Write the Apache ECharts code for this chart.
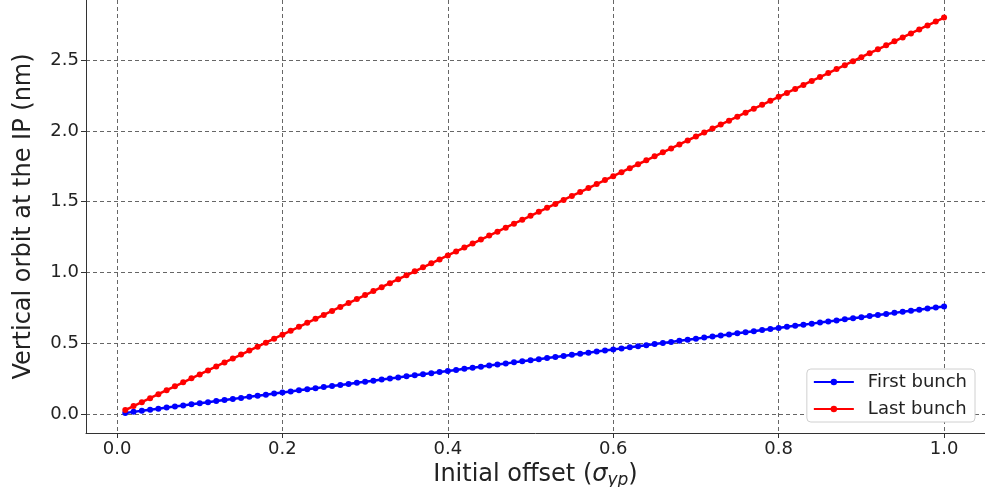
<!DOCTYPE html>
<html>
<head>
<meta charset="utf-8">
<script src="https://cdn.jsdelivr.net/npm/echarts@6/dist/echarts.min.js"></script>
<style>
html, body { margin: 0; padding: 0; background: #fff; }
#chart { width: 985px; height: 487px; }
</style>
</head>
<body>
<div id="chart"></div>
<script>
// 初始偏移 (sigma_yp)
var offsets = [0.01,0.02,0.03,0.04,0.05,0.06,0.07,0.08,0.09,0.10,
	0.11,0.12,0.13,0.14,0.15,0.16,0.17,0.18,0.19,0.20,
	0.21,0.22,0.23,0.24,0.25,0.26,0.27,0.28,0.29,0.30,
	0.31,0.32,0.33,0.34,0.35,0.36,0.37,0.38,0.39,0.40,
	0.41,0.42,0.43,0.44,0.45,0.46,0.47,0.48,0.49,0.50,
	0.51,0.52,0.53,0.54,0.55,0.56,0.57,0.58,0.59,0.60,
	0.61,0.62,0.63,0.64,0.65,0.66,0.67,0.68,0.69,0.70,
	0.71,0.72,0.73,0.74,0.75,0.76,0.77,0.78,0.79,0.80,
	0.81,0.82,0.83,0.84,0.85,0.86,0.87,0.88,0.89,0.90,
	0.91,0.92,0.93,0.94,0.95,0.96,0.97,0.98,0.99,1.00];
// First bunch
var firstBunch = [0.0076,0.0152,0.0228,0.0304,0.038,0.0456,0.0532,0.0608,0.0684,0.076,
	0.0836,0.0912,0.0988,0.1064,0.114,0.1216,0.1292,0.1368,0.1444,0.152,
	0.1596,0.1672,0.1748,0.1824,0.19,0.1976,0.2052,0.2128,0.2204,0.228,
	0.2356,0.2432,0.2508,0.2584,0.266,0.2736,0.2812,0.2888,0.2964,0.304,
	0.3116,0.3192,0.3268,0.3344,0.342,0.3496,0.3572,0.3648,0.3724,0.38,
	0.3876,0.3952,0.4028,0.4104,0.418,0.4256,0.4332,0.4408,0.4484,0.456,
	0.4636,0.4712,0.4788,0.4864,0.494,0.5016,0.5092,0.5168,0.5244,0.532,
	0.5396,0.5472,0.5548,0.5624,0.57,0.5776,0.5852,0.5928,0.6004,0.608,
	0.6156,0.6232,0.6308,0.6384,0.646,0.6536,0.6612,0.6688,0.6764,0.684,
	0.6916,0.6992,0.7068,0.7144,0.722,0.7296,0.7372,0.7448,0.7524,0.76];
// Last bunch
var lastBunch = [0.028,0.056,0.084,0.112,0.14,0.168,0.196,0.224,0.252,0.28,
	0.308,0.336,0.364,0.392,0.42,0.448,0.476,0.504,0.532,0.56,
	0.588,0.616,0.644,0.672,0.7,0.728,0.756,0.784,0.812,0.84,
	0.868,0.896,0.924,0.952,0.98,1.008,1.036,1.064,1.092,1.12,
	1.148,1.176,1.204,1.232,1.26,1.288,1.316,1.344,1.372,1.4,
	1.428,1.456,1.484,1.512,1.54,1.568,1.596,1.624,1.652,1.68,
	1.708,1.736,1.764,1.792,1.82,1.848,1.876,1.904,1.932,1.96,
	1.988,2.016,2.044,2.072,2.1,2.128,2.156,2.184,2.212,2.24,
	2.268,2.296,2.324,2.352,2.38,2.408,2.436,2.464,2.492,2.52,
	2.548,2.576,2.604,2.632,2.66,2.688,2.716,2.744,2.772,2.8];
// 刻度
var xTicks = [0.0, 0.2, 0.4, 0.6, 0.8, 1.0];
var yTicks = [0.0, 0.5, 1.0, 1.5, 2.0, 2.5];

function pairs(xs, ys) {
	var out = [];
	for (var i = 0; i < xs.length; i++) {
		out.push([xs[i], ys[i]]);
	}
	return out;
}

var font = 'DejaVu Sans';
var myChart = echarts.init(document.getElementById('chart'));
var option = {
	backgroundColor : '#fff',
	animation : false,
	grid : {
		left : 86,
		right : 0,
		top : 0,
		bottom : 54,
		outerBoundsMode : 'none'
	},
	legend : {
		right : 10,
		bottom : 65,
		orient : 'vertical',
		data : [ 'First bunch', 'Last bunch' ],
		backgroundColor : '#fff',
		borderColor : '#d0d0d0',
		borderWidth : 1,
		borderRadius : 4,
		padding : [ 4, 8, 4, 6 ],
		itemGap : 9,
		itemWidth : 40,
		itemHeight : 8,
		textStyle : {
			fontFamily : font,
			fontSize : 18,
			color : '#222',
			padding : [ 0, 0, 0, 9 ]
		}
	},
	xAxis : {
		type : 'value',
		min : -0.0375,
		max : 1.0495,
		name : '{a|Initial offset (}{s|σ}{b|yp}{a|)}',
		nameLocation : 'middle',
		nameGap : 21,
		nameTextStyle : {
			rich : {
				a : { fontFamily : font, fontSize : 24, color : '#222' },
				s : { fontFamily : font, fontSize : 24, color : '#222', fontStyle : 'italic' },
				b : { fontFamily : font, fontSize : 17, color : '#222', fontStyle : 'italic', padding : [ 11, 0, 0, 0 ] }
			}
		},
		axisLine : { onZero : false, lineStyle : { color : '#333', width : 1 } },
		axisTick : {
			customValues : xTicks,
			length : 5,
			lineStyle : { color : '#333' }
		},
		axisLabel : {
			customValues : xTicks,
			formatter : function(v) { return v.toFixed(1); },
			fontFamily : font,
			fontSize : 18,
			color : '#222',
			margin : 7
		},
		splitLine : {
			show : true,
			lineStyle : { color : '#666', type : [ 4, 3 ], width : 1 }
		}
	},
	yAxis : {
		type : 'value',
		min : -0.134,
		max : 2.924,
		name : 'Vertical orbit at the IP (nm)',
		nameLocation : 'middle',
		nameRotate : 90,
		nameGap : 50,
		nameTextStyle : {
			fontFamily : font,
			fontSize : 24,
			color : '#222'
		},
		axisLine : { show : true, onZero : false, lineStyle : { color : '#333', width : 1 } },
		axisTick : {
			show : true,
			customValues : yTicks,
			length : 5,
			lineStyle : { color : '#333' }
		},
		axisLabel : {
			customValues : yTicks,
			formatter : function(v) { return v.toFixed(1); },
			fontFamily : font,
			fontSize : 18,
			color : '#222',
			margin : 7
		},
		splitLine : {
			show : true,
			lineStyle : { color : '#666', type : [ 4, 3 ], width : 1 }
		}
	},
	series : [ {
		name : 'First bunch',
		type : 'line',
		data : pairs(offsets, firstBunch),
		symbol : 'circle',
		symbolSize : 6,
		lineStyle : { width : 2.5, color : '#0000ff' },
		itemStyle : { color : '#0000ff' }
	}, {
		name : 'Last bunch',
		type : 'line',
		data : pairs(offsets, lastBunch),
		symbol : 'circle',
		symbolSize : 6,
		lineStyle : { width : 2.5, color : '#ff0000' },
		itemStyle : { color : '#ff0000' }
	} ]
};
myChart.setOption(option);
</script>
</body>
</html>
